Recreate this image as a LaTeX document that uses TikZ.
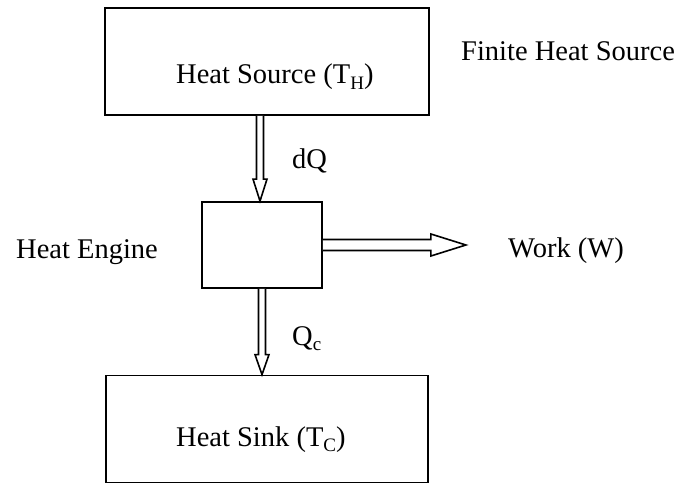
\documentclass[tikz,border=0pt]{standalone}
\usepackage{fontspec}
\setmainfont{Liberation Serif}
\usetikzlibrary{calc}
\newcommand{\sbs}[1]{\raisebox{-0.18em}{\fontsize{19}{19}\selectfont #1}}
\begin{document}
\begin{tikzpicture}[x=1pt,y=-1pt,
  box/.style={draw,line width=1.8pt,inner sep=0pt,rectangle},
  txt/.style={font=\fontsize{28.5}{30}\selectfont,inner sep=0pt,anchor=base west},
  fat/.style={draw,line width=1.6pt,line join=miter,fill=white}]
\useasboundingbox (0,0) rectangle (684,484);
% boxes
\node[box,minimum width=324pt,minimum height=107pt] (src) at (267,61.5) {};
\node[box,minimum width=120pt,minimum height=86pt] (eng) at (262,245) {};
\node[box,minimum width=322pt,minimum height=107pt] (sink) at (267,429) {};
% labels
\node[txt] (srclbl) at (176,84) {Heat Source (T\sbs{H})};
\node[txt] (fin) at (461,61) {Finite Heat Source};
\node[txt] (englbl) at (16,258) {Heat Engine};
\node[txt] (work) at (508,257) {Work (W)};
\node[txt] (dq) at (292,168) {dQ};
\node[txt] (qc) at (292,345) {Q\sbs{c}};
\node[txt] (sinklbl) at (176,446) {Heat Sink (T\sbs{C})};
% dQ arrow (source -> engine)
\coordinate (a1) at ($(src.south)+(-7,0)$);
\coordinate (a2) at ($(eng.north)+(-2,0)$);
\draw[fat] ($(a1)+(-3.5,0)$) -- ($(a2)+(-3.5,-22)$) -- ($(a2)+(-7,-22)$) -- (a2)
  -- ($(a2)+(7,-22)$) -- ($(a2)+(3.5,-22)$) -- ($(a1)+(3.5,0)$);
% work arrow
\coordinate (w1) at (eng.east);
\coordinate (w2) at ($(eng.east)+(143,0)$);
\draw[fat] ($(w1)+(0,-5.5)$) -- ($(w2)+(-35,-5.5)$) -- ($(w2)+(-35,-11)$) -- (w2)
  -- ($(w2)+(-35,11)$) -- ($(w2)+(-35,5.5)$) -- ($(w1)+(0,5.5)$);
% Qc arrow (engine -> sink)
\coordinate (c1) at (eng.south);
\coordinate (c2) at ($(sink.north)+(-5,0)$);
\draw[fat] ($(c1)+(-3.5,0)$) -- ($(c2)+(-3.5,-20)$) -- ($(c2)+(-7,-20)$) -- (c2)
  -- ($(c2)+(7,-20)$) -- ($(c2)+(3.5,-20)$) -- ($(c1)+(3.5,0)$);
\end{tikzpicture}
\end{document}
